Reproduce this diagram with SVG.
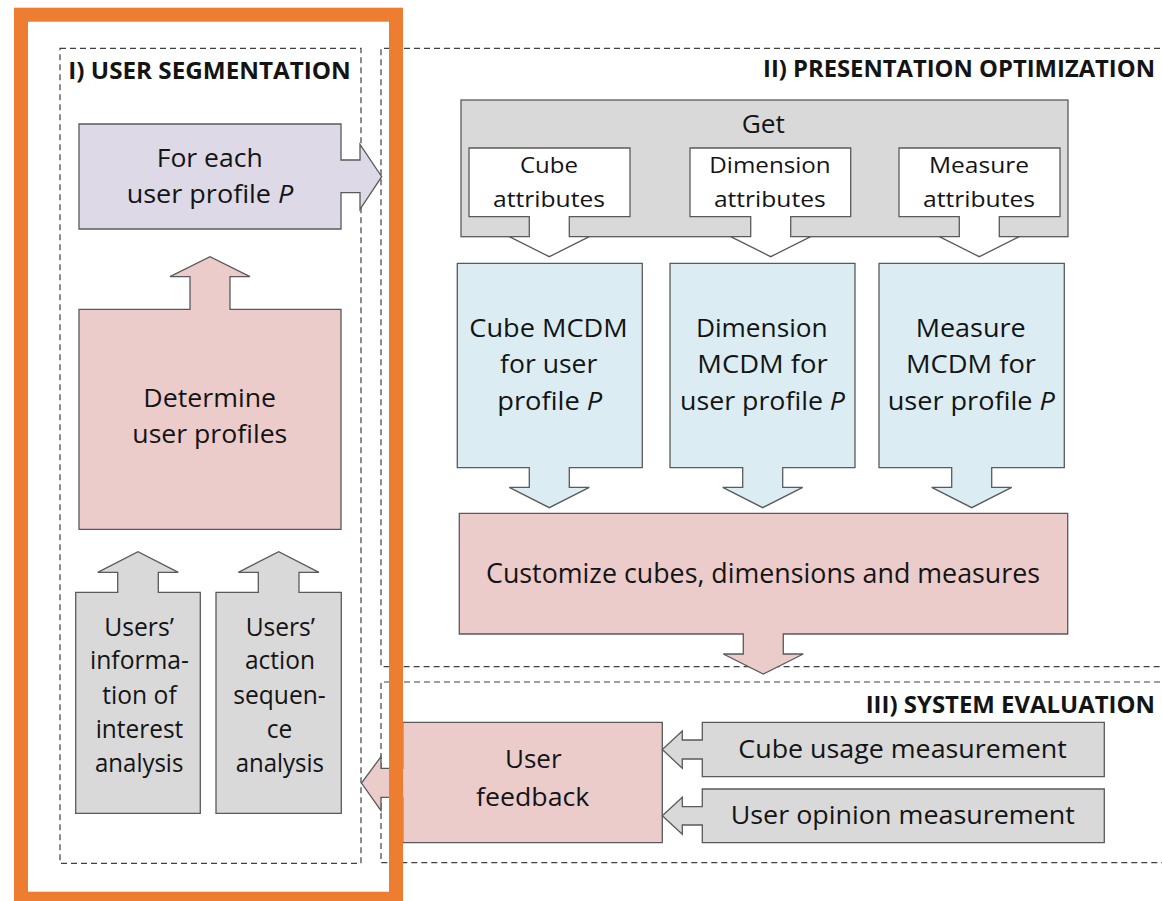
<svg xmlns="http://www.w3.org/2000/svg" width="1162" height="901" viewBox="0 0 1162 901">
<style>
.sec{fill:none;stroke:#404040;stroke-width:1.2;stroke-dasharray:6 4}
.shp{stroke:#5a5a5a;stroke-width:1.3;stroke-linejoin:miter}
.pink{fill:#EBCCCB}.blue{fill:#DBEDF3}.purple{fill:#DDD9E6}.gray{fill:#D9D9D9}.white{fill:#FFFFFF}
.t{font-family:'Open Sans','Liberation Sans',sans-serif;font-size:26px;fill:#141414;text-anchor:middle}
.s{font-size:22px}
.h{font-family:'Open Sans','Liberation Sans',sans-serif;font-size:24px;font-weight:bold;fill:#141414}
.frame{fill:none;stroke:#ED7D31;stroke-width:14}
</style>
<rect width="1162" height="901" fill="#FFFFFF"/>
<g id="sections">
<rect class="sec" x="60" y="48.3" width="301" height="815"/>
<path class="sec" d="M1170,48.3 H381 V666.7 H1170"/>
<path class="sec" d="M1170,682 H381 V862.7 H1170"/>
<text class="h" x="68.3" y="79" textLength="282.4" lengthAdjust="spacingAndGlyphs">I) USER SEGMENTATION</text>
<text class="h" x="763" y="76.7" textLength="392" lengthAdjust="spacingAndGlyphs">II) PRESENTATION OPTIMIZATION</text>
<text class="h" x="865.7" y="713.3" textLength="289.3" lengthAdjust="spacingAndGlyphs">III) SYSTEM EVALUATION</text>
</g>
<g id="connectors"></g>
<g id="for-each">
<path class="shp purple" d="M79,124 H341 V160 H360 V144.3 L381.7,176.7 L360,209.3 V192.7 H341 V229 H79 Z"/>
<text class="t" x="209.7" y="166.7" textLength="106" lengthAdjust="spacingAndGlyphs">For each</text>
<text class="t" x="210" y="203.3" textLength="166.7" lengthAdjust="spacingAndGlyphs">user profile <tspan font-style="italic">P</tspan></text>
</g>
<g id="determine">
<path class="shp pink" d="M79,309.3 H190 V276.7 H170 L210,256.7 L250,276.7 H230 V309.3 H341 V529.3 H79 Z"/>
<text class="t" x="209.7" y="406.7" textLength="132.7" lengthAdjust="spacingAndGlyphs">Determine</text>
<text class="t" x="209.8" y="443.3" textLength="155" lengthAdjust="spacingAndGlyphs">user profiles</text>
</g>
<g id="interest">
<path class="shp gray" d="M75.7,592.3 H117.7 V572.3 H97.7 L138,551.7 L178.3,572.3 H158.3 V592.3 H200.3 V813.3 H75.7 Z"/>
<text class="t" x="139" y="636" textLength="69.7" lengthAdjust="spacingAndGlyphs">Users’</text>
<text class="t" x="139.5" y="669.3" textLength="99" lengthAdjust="spacingAndGlyphs">informa-</text>
<text class="t" x="139.5" y="704" textLength="74.4" lengthAdjust="spacingAndGlyphs">tion of</text>
<text class="t" x="139.5" y="738.3" textLength="87.6" lengthAdjust="spacingAndGlyphs">interest</text>
<text class="t" x="139.2" y="771.7" textLength="88.3" lengthAdjust="spacingAndGlyphs">analysis</text>
</g>
<g id="action">
<path class="shp gray" d="M216,592.3 H258.3 V572.3 H238.3 L278.7,551.7 L319,572.3 H299 V592.3 H341.3 V813.3 H216 Z"/>
<text class="t" x="280.3" y="636" textLength="69.3" lengthAdjust="spacingAndGlyphs">Users’</text>
<text class="t" x="280" y="669.3" textLength="70" lengthAdjust="spacingAndGlyphs">action</text>
<text class="t" x="279.5" y="704" textLength="92.4" lengthAdjust="spacingAndGlyphs">sequen-</text>
<text class="t" x="279.5" y="738.3" textLength="25.6" lengthAdjust="spacingAndGlyphs">ce</text>
<text class="t" x="279.8" y="771.7" textLength="88.3" lengthAdjust="spacingAndGlyphs">analysis</text>
</g>
<g id="get">
<rect class="shp gray" x="461" y="100" width="607" height="136.7"/>
<text class="t" x="763.3" y="132.7" textLength="43.3" lengthAdjust="spacingAndGlyphs">Get</text>
</g>
<g id="cube-attributes">
<path class="shp white" d="M469,148 H630 V216.7 H569.3 V236.7 H589.3 L549.3,256.7 L509.3,236.7 H529.3 V216.7 H469 Z"/>
<text class="t s" x="549" y="173" textLength="58" lengthAdjust="spacingAndGlyphs">Cube</text>
<text class="t s" x="549" y="206.7" textLength="112" lengthAdjust="spacingAndGlyphs">attributes</text>
</g>
<g id="dimension-attributes">
<path class="shp white" d="M690,148 H850.7 V216.7 H790.7 V236.7 H810.7 L770.7,256.7 L730.7,236.7 H750.7 V216.7 H690 Z"/>
<text class="t s" x="770" y="173" textLength="121.4" lengthAdjust="spacingAndGlyphs">Dimension</text>
<text class="t s" x="769.8" y="206.7" textLength="111.7" lengthAdjust="spacingAndGlyphs">attributes</text>
</g>
<g id="measure-attributes">
<path class="shp white" d="M899,148 H1060 V216.7 H999.3 V236.7 H1019.3 L979.3,256.7 L939.3,236.7 H959.3 V216.7 H899 Z"/>
<text class="t s" x="979" y="173" textLength="100" lengthAdjust="spacingAndGlyphs">Measure</text>
<text class="t s" x="979" y="206.7" textLength="112" lengthAdjust="spacingAndGlyphs">attributes</text>
</g>
<g id="cube-mcdm">
<path class="shp blue" d="M457.3,263.3 H642.3 V467.7 H569.3 V487.3 H589.3 L549.3,507.7 L509.3,487.3 H529.3 V467.7 H457.3 Z"/>
<text class="t" x="548.5" y="336.7" textLength="158.4" lengthAdjust="spacingAndGlyphs">Cube MCDM</text>
<text class="t" x="548.7" y="373.3" textLength="97.3" lengthAdjust="spacingAndGlyphs">for user</text>
<text class="t" x="549.8" y="410" textLength="105" lengthAdjust="spacingAndGlyphs">profile <tspan font-style="italic">P</tspan></text>
</g>
<g id="dimension-mcdm">
<path class="shp blue" d="M670,263.3 H855 V467.7 H782.7 V487.3 H802.7 L762.7,507.7 L722.7,487.3 H742.7 V467.7 H670 Z"/>
<text class="t" x="761.8" y="336.7" textLength="131.7" lengthAdjust="spacingAndGlyphs">Dimension</text>
<text class="t" x="762.5" y="373.3" textLength="130.3" lengthAdjust="spacingAndGlyphs">MCDM for</text>
<text class="t" x="762.5" y="410" textLength="165" lengthAdjust="spacingAndGlyphs">user profile <tspan font-style="italic">P</tspan></text>
</g>
<g id="measure-mcdm">
<path class="shp blue" d="M879,263.3 H1064.3 V467.7 H991.7 V487.3 H1011.7 L971.7,507.7 L931.7,487.3 H951.7 V467.7 H879 Z"/>
<text class="t" x="970.7" y="336.7" textLength="110" lengthAdjust="spacingAndGlyphs">Measure</text>
<text class="t" x="971" y="373.3" textLength="130" lengthAdjust="spacingAndGlyphs">MCDM for</text>
<text class="t" x="971.3" y="410" textLength="167.3" lengthAdjust="spacingAndGlyphs">user profile <tspan font-style="italic">P</tspan></text>
</g>
<g id="customize">
<path class="shp pink" d="M459.3,513.3 H1067.7 V634 H783.3 V654 H803.3 L763.3,674 L723.3,654 H743.3 V634 H459.3 Z"/>
<text class="t" x="763" y="583.3" style="font-size:27px" textLength="554" lengthAdjust="spacingAndGlyphs">Customize cubes, dimensions and measures</text>
</g>
<g id="user-feedback">
<path class="shp pink" d="M402.7,722.3 H662.3 V842.7 H402.7 V797.3 H381 V810.7 L361.5,783 L381,756.7 V768.3 H402.7 Z"/>
<text class="t" x="533.3" y="768.3" textLength="56.7" lengthAdjust="spacingAndGlyphs">User</text>
<text class="t" x="532.7" y="805.7" textLength="113.3" lengthAdjust="spacingAndGlyphs">feedback</text>
</g>
<g id="cube-usage">
<path class="shp gray" d="M702.3,722.3 H1104.3 V776.7 H702.3 V759 H682.3 V768.3 L662.3,749.5 L682.3,731 V740 H702.3 Z"/>
<text class="t" x="902.5" y="758.3" textLength="328.4" lengthAdjust="spacingAndGlyphs">Cube usage measurement</text>
</g>
<g id="user-opinion">
<path class="shp gray" d="M702.3,789 H1104.3 V842.7 H702.3 V825 H682.3 V834.3 L662.3,815.8 L682.3,797.3 V806.7 H702.3 Z"/>
<text class="t" x="902.8" y="824.3" textLength="344.3" lengthAdjust="spacingAndGlyphs">User opinion measurement</text>
</g>
<g id="highlight-frame">
<rect class="frame" x="21" y="14.7" width="375" height="884"/>
</g>
</svg>
